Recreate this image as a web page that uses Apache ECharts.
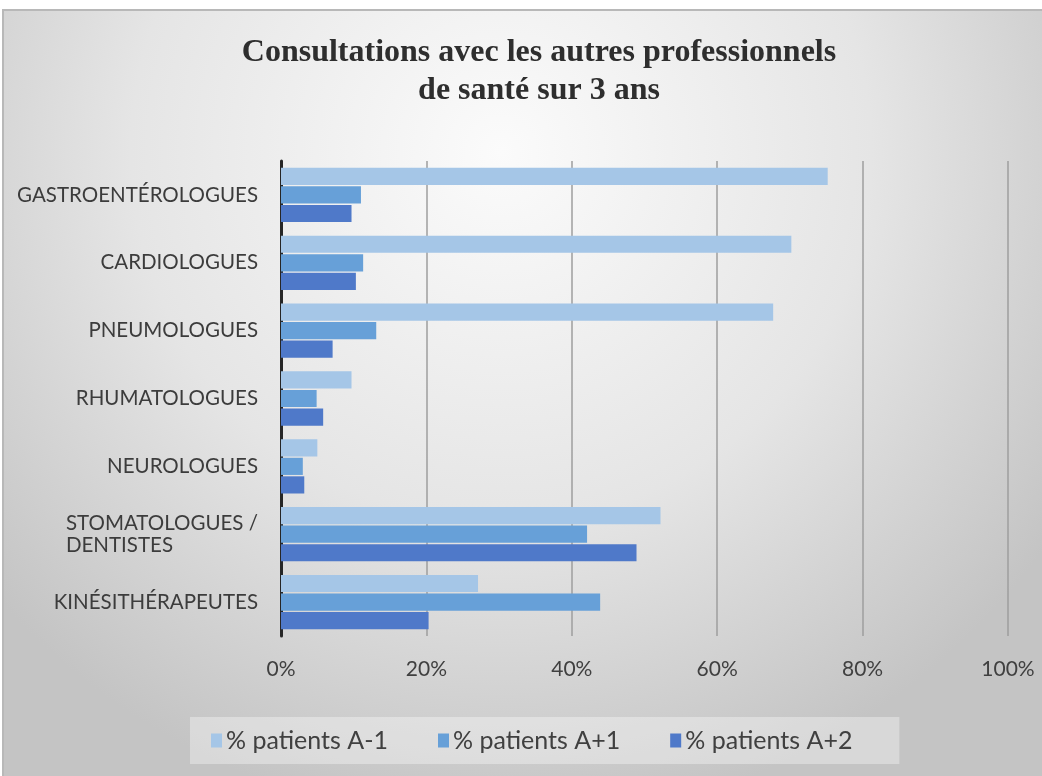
<!DOCTYPE html>
<html>
<head>
<meta charset="utf-8">
<style>
  html, body { margin: 0; padding: 0; background: #ffffff; }
  #chart { width: 1042px; height: 776px; }
</style>
<script src="https://cdn.jsdelivr.net/npm/echarts@6/dist/echarts.min.js"></script>
</head>
<body>
<div id="chart"></div>
<script>
const categories = ['GASTROENTÉROLOGUES', 'CARDIOLOGUES', 'PNEUMOLOGUES', 'RHUMATOLOGUES', 'NEUROLOGUES', 'STOMATOLOGUES /\nDENTISTES', 'KINÉSITHÉRAPEUTES'];
const seriesNames = ['% patients A-1', '% patients A+1', '% patients A+2'];
const valuesAminus1 = [75.2, 70.2, 67.7, 9.7, 5.0, 52.2, 27.1];
const valuesAplus1 = [11.0, 11.3, 13.1, 4.9, 3.0, 42.1, 43.9];
const valuesAplus2 = [9.7, 10.3, 7.1, 5.8, 3.2, 48.9, 20.3];
const xTicks = [0, 20, 40, 60, 80, 100];

const colors = ['#a5c6e7', '#67a0d8', '#4f79c9'];
const chart = echarts.init(document.getElementById('chart'), null, { renderer: 'canvas' });
const textFont = 'Lato';

const option = {
  animation: false,
  graphic: [{
    type: 'rect', z: -10, silent: true,
    shape: { x: 3, y: 10, width: 1060, height: 790 },
    style: {
      fill: new echarts.graphic.RadialGradient(0.47, 0.18, 0.85, [
        { offset: 0, color: '#fbfbfb' },
        { offset: 0.55, color: '#e5e5e5' },
        { offset: 1, color: '#c4c4c4' }
      ]),
      stroke: '#b8b8b8', lineWidth: 2
    }
  }],
  title: {
    text: 'Consultations avec les autres professionnels\nde santé sur 3 ans',
    left: 534, top: 29, textAlign: 'center',
    textStyle: { fontFamily: 'Liberation Serif', fontWeight: 'bold', fontSize: 32, color: '#2e2e2e', lineHeight: 38 }
  },
  legend: {
    data: seriesNames,
    left: 190, top: 717,
    padding: [11, 47, 11, 21],
    backgroundColor: 'rgba(255,255,255,0.35)',
    icon: 'rect', itemWidth: 11, itemHeight: 14, itemGap: 50,
    textStyle: { fontFamily: textFont, fontSize: 25, color: '#404040', padding: [0, 0, 0, -1] }
  },
  grid: { left: 281, right: 34, top: 161, bottom: 140, containLabel: false },
  xAxis: {
    type: 'value', min: 0, max: 100, interval: 20,
    axisLine: { show: false }, axisTick: { show: false },
    splitLine: { show: true, lineStyle: { color: '#9e9e9e', width: 1.5 } },
    axisLabel: {
      margin: 23, fontFamily: textFont, fontSize: 21, color: '#404040',
      formatter: function (v) { return xTicks.indexOf(v) >= 0 ? v + '%' : ''; }
    }
  },
  yAxis: {
    type: 'category', data: categories, inverse: true,
    axisLine: { show: true, lineStyle: { color: '#262626', width: 3 } },
    axisTick: { show: false },
    axisLabel: {
      margin: 23, fontFamily: textFont, fontSize: 20.5, color: '#3c3c3c', lineHeight: 22,
      formatter: function (v) { return v.indexOf('\n') >= 0 ? '{l|' + v.split('\n').join('}\n{l|') + '}' : v; },
      rich: { l: { align: 'left', fontFamily: textFont, fontSize: 20.5, color: '#3c3c3c', lineHeight: 22 } }
    }
  },
  series: [
    { name: seriesNames[0], type: 'bar', data: valuesAminus1, itemStyle: { color: colors[0] }, barGap: '8%', barCategoryGap: '20%' },
    { name: seriesNames[1], type: 'bar', data: valuesAplus1, itemStyle: { color: colors[1] }, barGap: '8%', barCategoryGap: '20%' },
    { name: seriesNames[2], type: 'bar', data: valuesAplus2, itemStyle: { color: colors[2] }, barGap: '8%', barCategoryGap: '20%' }
  ]
};
chart.setOption(option);
</script>
</body>
</html>
